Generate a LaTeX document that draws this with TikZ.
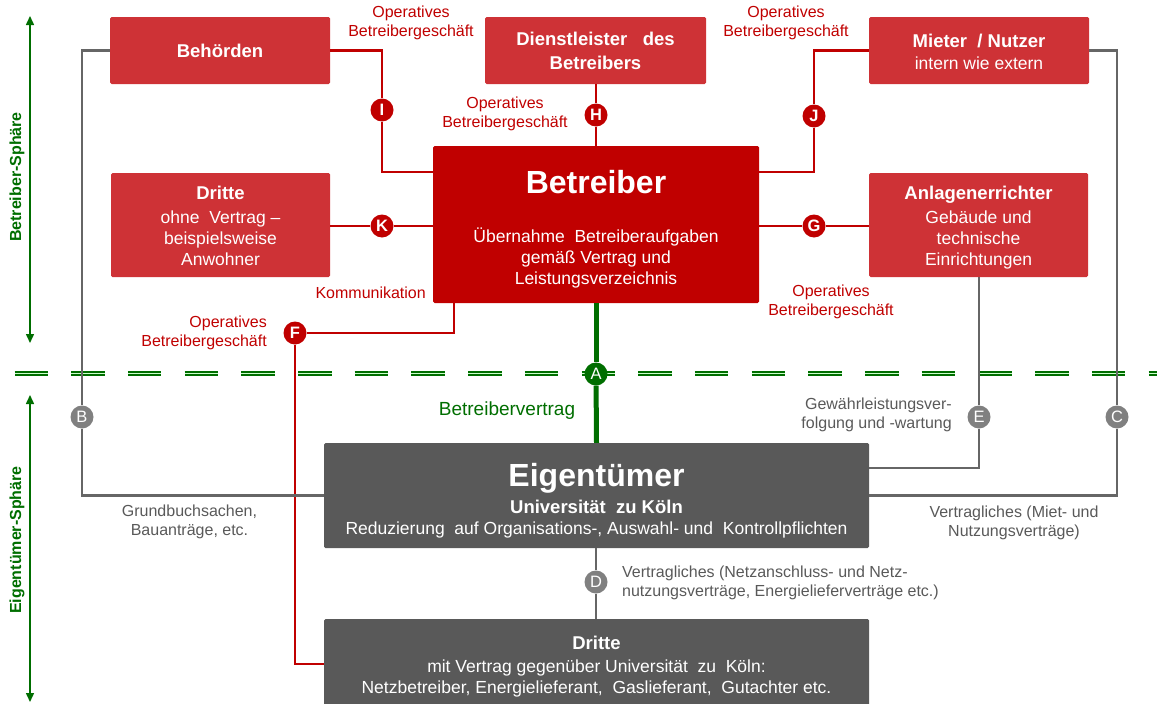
\documentclass[tikz,border=0pt]{standalone}
\usepackage{fontspec}
\setmainfont{Liberation Sans}
\usetikzlibrary{arrows.meta}
\definecolor{boxred}{RGB}{206,50,54}
\definecolor{darkred}{RGB}{192,0,0}
\definecolor{boxgray}{RGB}{89,89,89}
\definecolor{linegray}{RGB}{102,102,102}
\definecolor{circgray}{RGB}{128,128,128}
\definecolor{dgreen}{RGB}{0,110,0}
\definecolor{lblgray}{RGB}{89,89,89}
\newcommand{\ttl}[1]{{\fontsize{18.5}{22}\selectfont\bfseries #1}}
\newcommand{\toppad}[1]{\rule{0pt}{#1}}
\begin{document}
\begin{tikzpicture}[x=1pt,y=-1pt,
  box/.style={fill=boxred, text=white, inner sep=0pt, align=center, rounded corners=1.5pt,
    font=\fontsize{17.5}{21}\selectfont},
  mainbox/.style={box, fill=darkred},
  graybox/.style={box, fill=boxgray},
  rl/.style={draw=darkred, line width=2.4pt},
  gl/.style={draw=linegray, line width=2.5pt},
  grl/.style={draw=dgreen, line width=5pt},
  rc/.style={circle, fill=darkred, text=white, inner sep=0pt, minimum size=23pt,
    font=\fontsize{16.5}{16}\selectfont\bfseries},
  gc/.style={rc, fill=circgray, font=\fontsize{16.5}{16}\selectfont},
  grc/.style={rc, fill=dgreen, font=\fontsize{16.5}{16}\selectfont},
  lbl/.style={text=darkred, font=\fontsize{16}{19}\selectfont, align=center, inner sep=0pt},
  glbl/.style={lbl, text=lblgray},
  sph/.style={text=dgreen, font=\fontsize{16}{16}\selectfont\bfseries, rotate=90, inner sep=0pt},
  sarrow/.style={draw=dgreen, line width=1.5pt, {Triangle[length=9pt,width=8pt]}-{Triangle[length=9pt,width=8pt]}},
  dline/.style={draw=dgreen, line width=2pt, double=green!20!white, double distance=1pt,
    dash pattern=on 33.5pt off 23.2pt}
]
\useasboundingbox (0,0) rectangle (1157,704);

% sphere divider
\coordinate (dlA) at (14.5,373);
\coordinate (dlB) at (1160,373);
\draw[dline] (dlA) -- (dlB);

% side arrows
\coordinate (s1a) at (30,16);
\coordinate (s1b) at (30,343);
\coordinate (s2a) at (30,395);
\coordinate (s2b) at (30,702);
\draw[sarrow] (s1a) -- (s1b);
\draw[sarrow] (s2a) -- (s2b);
\node[sph] (sphB) at (17,177) {Betreiber-Sphäre};
\node[sph] (sphE) at (17,540) {Eigentümer-Sphäre};

% boxes
\node[box, minimum width=220pt, minimum height=67pt] (behoerden) at (220,50.5) {\ttl{Behörden}};
\node[box, minimum width=221pt, minimum height=67pt] (dienst) at (595.5,50.5) {\ttl{Dienstleister\ \ \ des}\\[3pt]\ttl{Betreibers}};
\node[box, minimum width=220pt, minimum height=67pt] (mieter) at (979,50.5) {\toppad{16pt}\ttl{Mieter\ \ / Nutzer}\\[1pt]intern wie extern};
\node[box, minimum width=219pt, minimum height=104pt] (dritteL) at (220.5,225) {\toppad{15.2pt}\ttl{Dritte}\\[3pt]ohne\ \ Vertrag --\\beispielsweise\\Anwohner};
\node[box, minimum width=219pt, minimum height=104pt] (anlagen) at (978.5,225) {\toppad{19pt}\ttl{Anlagenerrichter}\\[3pt]Gebäude und\\technische\\Einrichtungen};
\node[mainbox, minimum width=326pt, minimum height=157pt] (betreiber) at (596,224.5)
  {\toppad{31.7pt}{\fontsize{32}{34}\selectfont\bfseries Betreiber}\\[28pt]Übernahme\ \ Betreiberaufgaben\\gemäß Vertrag und\\Leistungsverzeichnis};
\node[graybox, minimum width=545pt, minimum height=105pt] (eigen) at (596.5,495.5)
  {\toppad{33.7pt}{\fontsize{32}{33}\selectfont\bfseries Eigentümer}\\[6pt]\ttl{Universität\ \ zu Köln}\\Reduzierung\ \ auf Organisations-, Auswahl- und\ \ Kontrollpflichten};
\node[graybox, minimum width=545pt, minimum height=90pt] (dritteB) at (596.5,664)
  {\toppad{17.8pt}\ttl{Dritte}\\[2pt]mit Vertrag gegenüber Universität\ \ zu\ \ Köln:\\Netzbetreiber, Energielieferant,\ \ Gaslieferant,\ \ Gutachter etc.};

% circle positions
\node[rc] (cI) at (382,110) {I};
\node[rc] (cH) at (596,115) {H};
\node[rc] (cJ) at (814,116) {J};
\node[rc] (cK) at (382,226) {K};
\node[rc] (cG) at (814,226) {G};
\node[rc] (cF) at (295,333) {F};
\node[grc] (cA) at (596,374) {A};
\node[gc] (cB) at (82,417) {B};
\node[gc] (cC) at (1117,417) {C};
\node[gc] (cE) at (979,417) {E};
\node[gc] (cD) at (596,582) {D};

% connectors
\draw[rl] (behoerden.east) -| (cI);
\draw[rl] (cI) |- ([yshift=52.5pt]betreiber.west);
\draw[rl] (dienst.south -| cH) -- (cH);
\draw[rl] (cH) -- (cH |- betreiber.north);
\draw[rl] (mieter.west) -| (cJ);
\draw[rl] (cJ) |- ([yshift=52.5pt]betreiber.east);
\draw[rl] (dritteL.east |- cK) -- (cK);
\draw[rl] (cK) -- (betreiber.west |- cK);
\draw[rl] (betreiber.east |- cG) -- (cG);
\draw[rl] (cG) -- (anlagen.west |- cG);
\draw[rl] ([xshift=-142pt]betreiber.south) |- (cF);
\draw[rl] (cF) |- (dritteB.west);
\draw[grl] (betreiber.south) -- (cA);
\draw[grl] (cA) -- (eigen.north);
\draw[gl] (behoerden.west) -| (cB);
\draw[gl] (cB) |- (eigen.west);
\draw[gl] (mieter.east) -| (cC);
\draw[gl] (cC) |- (eigen.east);
\draw[gl] (anlagen.south -| cE) -- (cE);
\draw[gl] (cE) |- ([yshift=27.5pt]eigen.east);
\draw[gl] (eigen.south -| cD) -- (cD);
\draw[gl] (cD) -- (dritteB.north -| cD);

% labels
\node[lbl] (l1) at (411,22.5) {Operatives\\Betreibergeschäft};
\node[lbl] (l2) at (505,113.5) {Operatives\\Betreibergeschäft};
\node[lbl] (l3) at (786,22.5) {Operatives\\Betreibergeschäft};
\node[lbl] (l4) at (831,302) {Operatives\\Betreibergeschäft};
\node[lbl, anchor=east, align=right] (l5) at (267,333) {Operatives\\Betreibergeschäft};
\node[lbl, anchor=east] (l6) at (426,293) {Kommunikation};
\node[lbl, text=dgreen, font=\fontsize{19}{19}\selectfont] (l7) at (507,411) {Betreibervertrag};
\node[glbl, anchor=east, align=right] (l8) at (952,414.5) {Gewährleistungsver-\\folgung und -wartung};
\node[glbl] (l9) at (189.5,521.5) {Grundbuchsachen,\\Bauanträge, etc.};
\node[glbl] (l10) at (1014,523) {Vertragliches (Miet- und\\Nutzungsverträge)};
\node[glbl, anchor=west, align=left] (l11) at (622,583) {Vertragliches (Netzanschluss- und Netz-\\nutzungsverträge, Energielieferverträge etc.)};
\end{tikzpicture}
\end{document}
